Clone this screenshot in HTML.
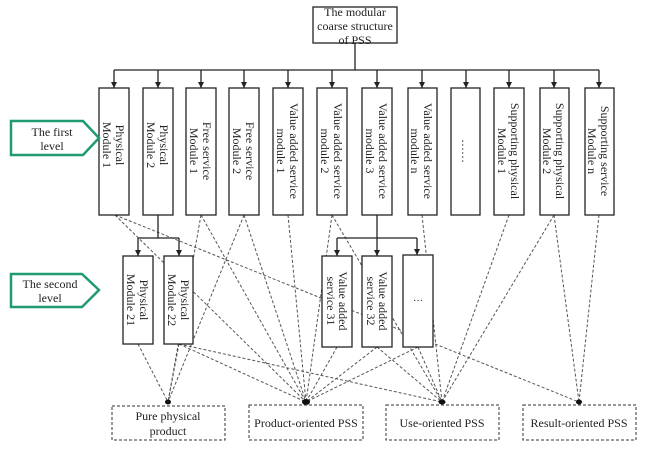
<!DOCTYPE html>
<html><head><meta charset="utf-8"><style>body{margin:0;background:#fff}svg{display:block}text{font-family:"Liberation Serif",serif;fill:#222}</style></head><body>
<svg width="652" height="451" viewBox="0 0 652 451" xmlns="http://www.w3.org/2000/svg">
<defs><marker id="a" markerWidth="7" markerHeight="6" refX="6" refY="3" orient="auto" markerUnits="userSpaceOnUse"><path d="M0,0 L6,3 L0,6 z" fill="#222"/></marker></defs>
<g stroke="#555" stroke-width="1" stroke-dasharray="3,2" fill="none">
<line x1="115" y1="215" x2="306" y2="402"/>
<line x1="115" y1="215" x2="579" y2="402"/>
<line x1="201" y1="215" x2="168" y2="402"/>
<line x1="201" y1="215" x2="306" y2="402"/>
<line x1="244" y1="215" x2="168" y2="402"/>
<line x1="244" y1="215" x2="306" y2="402"/>
<line x1="288" y1="215" x2="306" y2="402"/>
<line x1="332" y1="215" x2="306" y2="402"/>
<line x1="332" y1="215" x2="442" y2="402"/>
<line x1="422" y1="215" x2="442" y2="402"/>
<line x1="509" y1="215" x2="442" y2="402"/>
<line x1="554" y1="215" x2="442" y2="402"/>
<line x1="554" y1="215" x2="579" y2="402"/>
<line x1="599" y1="215" x2="579" y2="402"/>
<line x1="138" y1="344" x2="168" y2="402"/>
<line x1="179" y1="344" x2="168" y2="402"/>
<line x1="179" y1="344" x2="306" y2="402"/>
<line x1="179" y1="344" x2="442" y2="402"/>
<line x1="337" y1="347" x2="306" y2="402"/>
<line x1="377" y1="347" x2="306" y2="402"/>
<line x1="377" y1="347" x2="442" y2="402"/>
<line x1="418" y1="347" x2="306" y2="402"/>
<line x1="418" y1="347" x2="442" y2="402"/>
</g>
<g fill="#111"><ellipse cx="168" cy="402" rx="3" ry="2.5"/><ellipse cx="306" cy="402" rx="4" ry="3"/><ellipse cx="442" cy="402" rx="3.5" ry="2.5"/><ellipse cx="579" cy="402" rx="3" ry="2.5"/></g>
<g stroke="#222" stroke-width="1.3" fill="none">
<rect x="313" y="7" width="84" height="36" fill="#fff"/>
<line x1="355" y1="43" x2="355" y2="70"/>
<line x1="114" y1="70" x2="599" y2="70"/>
<g marker-end="url(#a)">
<line x1="114" y1="70" x2="114" y2="88"/><line x1="158" y1="70" x2="158" y2="88"/><line x1="201" y1="70" x2="201" y2="88"/><line x1="244" y1="70" x2="244" y2="88"/><line x1="288" y1="70" x2="288" y2="88"/><line x1="332" y1="70" x2="332" y2="88"/><line x1="377" y1="70" x2="377" y2="88"/><line x1="422" y1="70" x2="422" y2="88"/><line x1="466" y1="70" x2="466" y2="88"/><line x1="509" y1="70" x2="509" y2="88"/><line x1="554" y1="70" x2="554" y2="88"/><line x1="599" y1="70" x2="599" y2="88"/>
<line x1="138" y1="238" x2="138" y2="256"/><line x1="179" y1="238" x2="179" y2="256"/>
<line x1="337" y1="238" x2="337" y2="256"/><line x1="377" y1="238" x2="377" y2="256"/><line x1="417" y1="238" x2="417" y2="255"/>
</g>
<line x1="158" y1="215" x2="158" y2="238"/><line x1="138" y1="238" x2="179" y2="238"/>
<line x1="377" y1="215" x2="377" y2="238"/><line x1="337" y1="238" x2="417" y2="238"/>
<g fill="#fff">
<rect x="99" y="88" width="30" height="127"/><rect x="143" y="88" width="30" height="127"/><rect x="186" y="88" width="30" height="127"/><rect x="229" y="88" width="30" height="127"/><rect x="273" y="88" width="30" height="127"/><rect x="317" y="88" width="30" height="127"/><rect x="362" y="88" width="30" height="127"/><rect x="408" y="88" width="29" height="127"/><rect x="451" y="88" width="29" height="127"/><rect x="494" y="88" width="30" height="127"/><rect x="540" y="88" width="29" height="127"/><rect x="585" y="88" width="29" height="127"/>
<rect x="123" y="256" width="30" height="88"/><rect x="164" y="256" width="29" height="88"/>
<rect x="322" y="256" width="30" height="91"/><rect x="362" y="256" width="30" height="91"/><rect x="403" y="255" width="30" height="92"/>
</g>
</g>
<g stroke="#333" stroke-width="1" stroke-dasharray="3,2" fill="#fff">
<rect x="112" y="406" width="113" height="34"/><rect x="249" y="405" width="114" height="35"/><rect x="386" y="405" width="113" height="35"/><rect x="523" y="405" width="113" height="35"/>
</g>
<g stroke="#1f9a72" stroke-width="2.5" fill="#fff">
<path d="M11,121 L83,121 L99,138 L83,155 L11,155 Z"/>
<path d="M11,274 L82,274 L99,290 L82,307 L11,307 Z"/>
</g>
<g font-size="12" text-anchor="middle">
<text x="355" y="16">The modular</text><text x="355" y="30">coarse structure</text><text x="355" y="44">of PSS</text>
<text x="52" y="136">The first</text><text x="52" y="150">level</text>
<text x="50" y="288">The second</text><text x="50" y="302">level</text>
<text x="168" y="420">Pure physical</text><text x="168" y="435">product</text>
<text x="306" y="427">Product-oriented PSS</text>
<text x="442" y="427">Use-oriented PSS</text>
<text x="579" y="427">Result-oriented PSS</text>
</g>
<g font-size="12" text-anchor="middle">
<g transform="translate(114,145) rotate(90)"><text y="-2">Physical</text><text y="11">Module 1</text></g>
<g transform="translate(158,145) rotate(90)"><text y="-2">Physical</text><text y="11">Module 2</text></g>
<g transform="translate(201,151) rotate(90)"><text y="-2">Free service</text><text y="11">Module 1</text></g>
<g transform="translate(244,151) rotate(90)"><text y="-2">Free service</text><text y="11">Module 2</text></g>
<g transform="translate(288,151) rotate(90)"><text y="-2">Value added service</text><text y="11">module 1</text></g>
<g transform="translate(332,151) rotate(90)"><text y="-2">Value added service</text><text y="11">module 2</text></g>
<g transform="translate(377,151) rotate(90)"><text y="-2">Value added service</text><text y="11">module 3</text></g>
<g transform="translate(422,151) rotate(90)"><text y="-2">Value added service</text><text y="11">module n</text></g>
<g transform="translate(466,151) rotate(90)"><text y="4">……</text></g>
<g transform="translate(509,151) rotate(90)"><text y="-2">Supporting physical</text><text y="11">Module 1</text></g>
<g transform="translate(554,151) rotate(90)"><text y="-2">Supporting physical</text><text y="11">Module 2</text></g>
<g transform="translate(599,151) rotate(90)"><text y="-2">Supporting service</text><text y="11">Module n</text></g>
<g transform="translate(138,300) rotate(90)"><text y="-2">Physical</text><text y="11">Module 21</text></g>
<g transform="translate(179,300) rotate(90)"><text y="-2">Physical</text><text y="11">Module 22</text></g>
<g transform="translate(337,301) rotate(90)"><text y="-2">Value added</text><text y="10">service 31</text></g>
<g transform="translate(377,301) rotate(90)"><text y="-2">Value added</text><text y="10">service 32</text></g>
<text x="418" y="301" text-anchor="middle" font-size="10">…</text>
</g>
</svg>
</body></html>
